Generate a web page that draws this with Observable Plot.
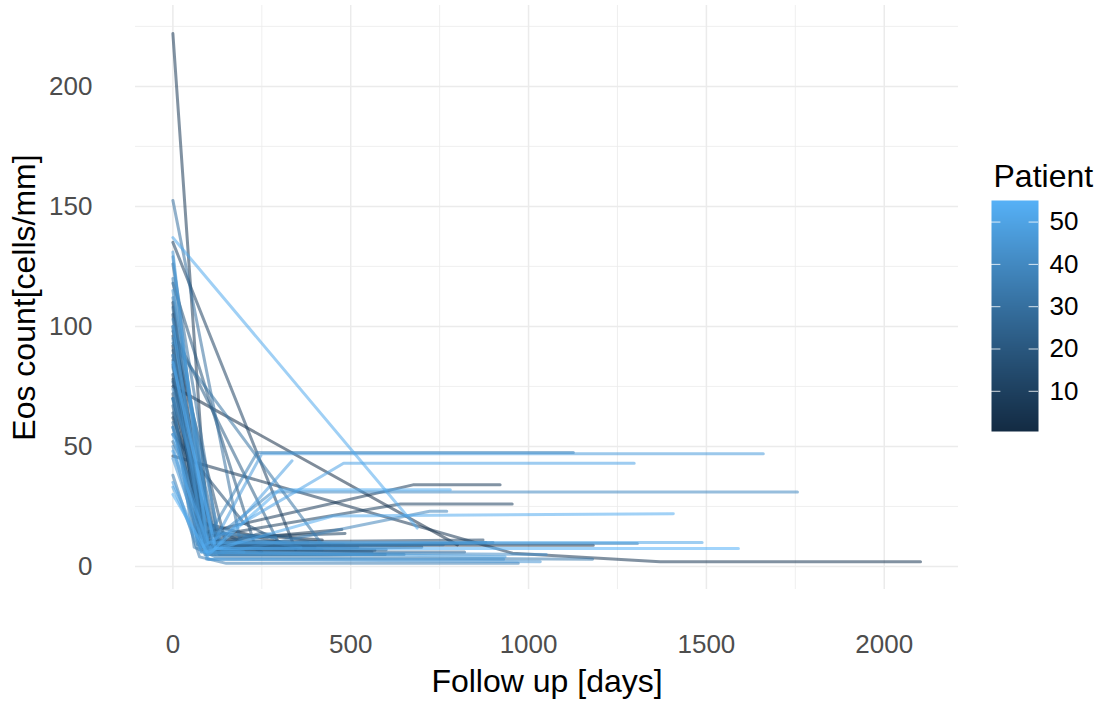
<!DOCTYPE html>
<html>
<head>
<meta charset="utf-8">
<script src="https://cdn.jsdelivr.net/npm/d3@7"></script>
<script src="https://cdn.jsdelivr.net/npm/@observablehq/plot@0.6"></script>
<style>
  body { margin: 0; background: #fff; }
  #wrap { position: relative; width: 1097px; height: 703px; font-family: "Liberation Sans", Arial, Helvetica, sans-serif; }
  #legend { position: absolute; left: 980px; top: 150px; }
  #chart { position: absolute; left: 0; top: 0; }
</style>
</head>
<body>
<div id="wrap"><div id="chart"></div><div id="legend"></div></div>
<script>
// Patient ids
const patients = d3.range(1, 56);
// Follow-up days per patient (same order as patients)
const followDays = [
  [0,70,330,420],[0,800],[0,95,1182],[0,90,350],[0,75,475],
  [0,955,1370,2102],[0,100,260],[0,85,675,920],[0,120,484],[0,80,640,954],
  [0,345],[0,90,872],[0,110,568],[0,130,597],[0,200,330],
  [0,150,400],[0,60,250],[0,100,560],[0,230,310],[0,80,700],
  [0,90,380],[0,300],[0,70,520],[0,130,250,440],[0,100,820],
  [0,140,420],[0,85,600],[0,75,900],[0,130,760],[0,190,480],
  [0,420],[0,90,650],[0,115,880],[0,60,120,1180],[0,75,150,971],
  [0,90,237,1126],[0,110,1306],[0,120,722,770],[0,140,200,360],[0,120,280,1756],
  [0,100,560],[0,80,1050],[0,110,290],[0,95,930],[0,100,1033],
  [0,95,200],[0,100,250,1660],[0,80,934],[0,110,335],[0,80,480,1297],
  [0,100,1488],[0,687],[0,90,450,1407],[0,100,300,780],[0,120,1590]
];
// Eos counts per patient at those days
const eosCounts = [
  [92,14,12,11],[75,9],[110,9,8.8],[70,18,8],[100,10,15.4],
  [46,5.5,2,2],[222,10,9],[88,14,34,34],[62,12,13.7],[80,12,26,26],
  [135,7],[105,10,11],[78,6,6.7],[84,5,5],[55,18,8],
  [96,9,8],[72,20,6],[64,8,6],[118,9,8],[86,7,8],
  [58,11,10],[98,9],[67,9,8],[90,9,14,9],[77,6,6],
  [52,7,7],[108,8,7],[60,8,10],[126,9,9],[152.5,10,9],
  [93,9],[83,5,5],[112,7,10],[70,8,4,3],[38,4,1.3,1.3],
  [95,10,47.5,47.5],[120,9.6,9.6],[74,5,23,23],[103,6,12,8],[70,12,31,31],
  [129,5,5],[50,6,5],[115,14,12],[88,3,3],[45,3,2],
  [131,8,6],[58,6,47,47],[33,6,4],[48,6,44],[35,8,43,43],
  [100,10,10],[137,16],[55,6,21,22],[30,5,32,32],[85,7.5,7.5]
];
const xMajor = [0, 500, 1000, 1500, 2000];
const xMinor = [250, 750, 1250, 1750];
const yMajor = [0, 50, 100, 150, 200];
const yMinor = [25, 75, 125, 175, 225];
const legendTicks = [10, 20, 30, 40, 50];
const xTitle = "Follow up [days]";
const yTitle = "Eos count[cells/mm]";
const legendTitle = "Patient";

const rows = [];
patients.forEach((p, i) => {
  followDays[i].forEach((d, j) => rows.push({patient: p, day: d, eos: eosCounts[i][j]}));
});

const colorOpts = {type: "linear", domain: [0.5, 55.1], range: ["#132B43", "#56B1F7"], interpolate: "lab"};
const font = "'Liberation Sans', Arial, Helvetica, sans-serif";
const panelBottom = 589;

const chart = Plot.plot({
  width: 1097, height: 703,
  marginLeft: 135, marginRight: 139, marginTop: 5, marginBottom: 703 - panelBottom,
  style: {fontFamily: font, background: "white", overflow: "visible"},
  x: {domain: [-105.1, 2208.8]},
  y: {domain: [-9.6, 233.7]},
  color: colorOpts,
  marks: [
    Plot.gridY(yMinor, {stroke: "#ebebeb", strokeOpacity: 1, strokeWidth: 0.8}),
    Plot.gridX(xMinor, {stroke: "#ebebeb", strokeOpacity: 1, strokeWidth: 0.8}),
    Plot.gridY(yMajor, {stroke: "#ebebeb", strokeOpacity: 1, strokeWidth: 1.5}),
    Plot.gridX(xMajor, {stroke: "#ebebeb", strokeOpacity: 1, strokeWidth: 1.5}),
    Plot.line(rows, {x: "day", y: "eos", z: "patient", stroke: "patient", strokeOpacity: 0.55, strokeWidth: 3}),
    Plot.axisY(yMajor, {tickSize: 0, tickPadding: 43, fontSize: 26, fill: "#4d4d4d", label: null, tickFormat: d => String(d)}),
    Plot.axisX(xMajor, {tickSize: 0, tickPadding: 45, fontSize: 26, fill: "#4d4d4d", label: null, tickFormat: d => String(d)}),
    Plot.text([xTitle], {frameAnchor: "bottom", textAnchor: "middle", lineAnchor: "middle", dy: 92, fontSize: 32, fill: "black"}),
    Plot.text([yTitle], {frameAnchor: "left", textAnchor: "middle", lineAnchor: "middle", dx: -111, rotate: -90, fontSize: 32, fill: "black"})
  ]
});
document.getElementById("chart").appendChild(chart);

const legend = Plot.plot({
  width: 117, height: 300,
  marginLeft: 11, marginRight: 59, marginTop: 50, marginBottom: 19,
  style: {fontFamily: font, background: "transparent", overflow: "visible"},
  x: {domain: [0, 1], axis: null},
  y: {domain: [0.5, 55.1], axis: null},
  color: colorOpts,
  marks: [
    Plot.raster({fill: (x, y) => y, x1: 0, x2: 1, y1: 0.5, y2: 55.1, imageRendering: "auto"}),
    Plot.ruleY(legendTicks, {x1: 0, x2: 0.2, stroke: "white", strokeOpacity: 0.8, strokeWidth: 1}),
    Plot.ruleY(legendTicks, {x1: 0.8, x2: 1, stroke: "white", strokeOpacity: 0.8, strokeWidth: 1}),
    Plot.text(legendTicks, {y: d => d, x: 1, dx: 11, textAnchor: "start", fontSize: 26, fill: "black"}),
    Plot.text([legendTitle], {frameAnchor: "top-left", dx: 2, dy: -36, textAnchor: "start", lineAnchor: "top", fontSize: 32, fill: "black"})
  ]
});
document.getElementById("legend").appendChild(legend);
</script>
</body>
</html>
